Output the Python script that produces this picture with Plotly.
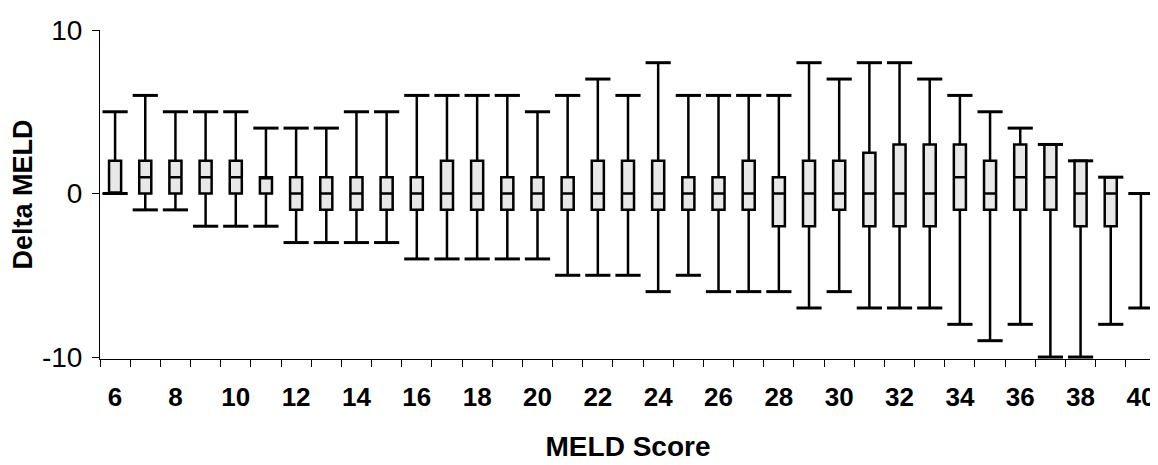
import plotly.graph_objects as go

scores = list(range(6, 41))
max_v = [5, 6, 5, 5, 5, 4, 4, 4, 5, 5, 6, 6, 6, 6, 5, 6, 7, 6, 8, 6,
         6, 6, 6, 8, 7, 8, 8, 7, 6, 5, 4, 3, 2, 1, 0]
q3_v = [2, 2, 2, 2, 2, 1, 1, 1, 1, 1, 1, 2, 2, 1, 1, 1, 2, 2, 2, 1,
        1, 2, 1, 2, 2, 2.5, 3, 3, 3, 2, 3, 3, 2, 1, 0]
med_v = [0, 1, 1, 1, 1, 1, 0, 0, 0, 0, 0, 0, 0, 0, 0, 0, 0, 0, 0, 0,
         0, 0, 0, 0, 0, 0, 0, 0, 1, 0, 1, 1, 0, 0, 0]
q1_v = [0, 0, 0, 0, 0, 0, -1, -1, -1, -1, -1, -1, -1, -1, -1, -1, -1, -1, -1, -1,
        -1, -1, -2, -2, -1, -2, -2, -2, -1, -1, -1, -1, -2, -2, 0]
min_v = [0, -1, -1, -2, -2, -2, -3, -3, -3, -3, -4, -4, -4, -4, -4, -5, -5, -5, -6, -5,
         -6, -6, -6, -7, -6, -7, -7, -7, -8, -9, -8, -10, -10, -8, -7]

label_vals = [s for s in scores if s % 2 == 0]
label_text = [str(s) for s in label_vals]
y_ticks = [-10, 0, 10]
y_tick_text = ["-10", "0", "10"]

FONT = "Liberation Sans, Arial, sans-serif"
NARROW = "Liberation Sans Narrow, Arial Narrow, Liberation Sans, sans-serif"

fig = go.Figure()
fig.add_trace(go.Box(
    x=scores, q1=q1_v, median=med_v, q3=q3_v,
    lowerfence=min_v, upperfence=max_v,
    width=0.4, whiskerwidth=0, boxpoints=False,
    fillcolor="#e8e8e8", line=dict(color="black", width=2.5),
    showlegend=False, hoverinfo="skip",
))
fig.add_trace(go.Scatter(
    x=scores + scores, y=max_v + min_v, mode="markers",
    marker=dict(symbol="line-ew", size=18, color="black",
                line=dict(color="black", width=3)),
    xaxis="x2", showlegend=False, hoverinfo="skip",
))

# page body has an 8px default margin, so the figure is sized 1150x457
fig.update_layout(
    width=1150, height=457,
    margin=dict(l=92, r=2, t=22, b=106),
    paper_bgcolor="white", plot_bgcolor="white",
    font=dict(family=FONT, color="black"),
    xaxis=dict(
        range=[5.5, 40.5], tickmode="linear", tick0=5.5, dtick=1,
        ticks="outside", ticklen=7, tickcolor="black", tickwidth=1,
        showticklabels=False, showline=True, linecolor="black", linewidth=1,
        showgrid=False, zeroline=False,
        title=dict(text="MELD Score", standoff=70,
                   font=dict(size=28, weight="bold", family=FONT)),
        automargin=False,
    ),
    xaxis2=dict(
        overlaying="x", matches="x", anchor="y", side="bottom",
        tickmode="array", tickvals=label_vals, ticktext=label_text,
        ticks="", showline=False, showgrid=False, zeroline=False,
        tickfont=dict(size=26, weight="bold", family=NARROW),
        ticklabelstandoff=20, automargin=False,
    ),
    yaxis=dict(
        range=[-10.12, 10], tickmode="array", tickvals=y_ticks, ticktext=y_tick_text,
        ticks="outside", ticklen=7, tickcolor="black", tickwidth=1,
        showline=True, linecolor="black", linewidth=1,
        showgrid=False, zeroline=False,
        tickfont=dict(size=28, family=FONT), ticklabelstandoff=4,
        title=dict(text="Delta MELD", standoff=14,
                   font=dict(size=27, weight="bold", family=FONT)),
        automargin=False,
    ),
)

fig.write_html("out.html")
